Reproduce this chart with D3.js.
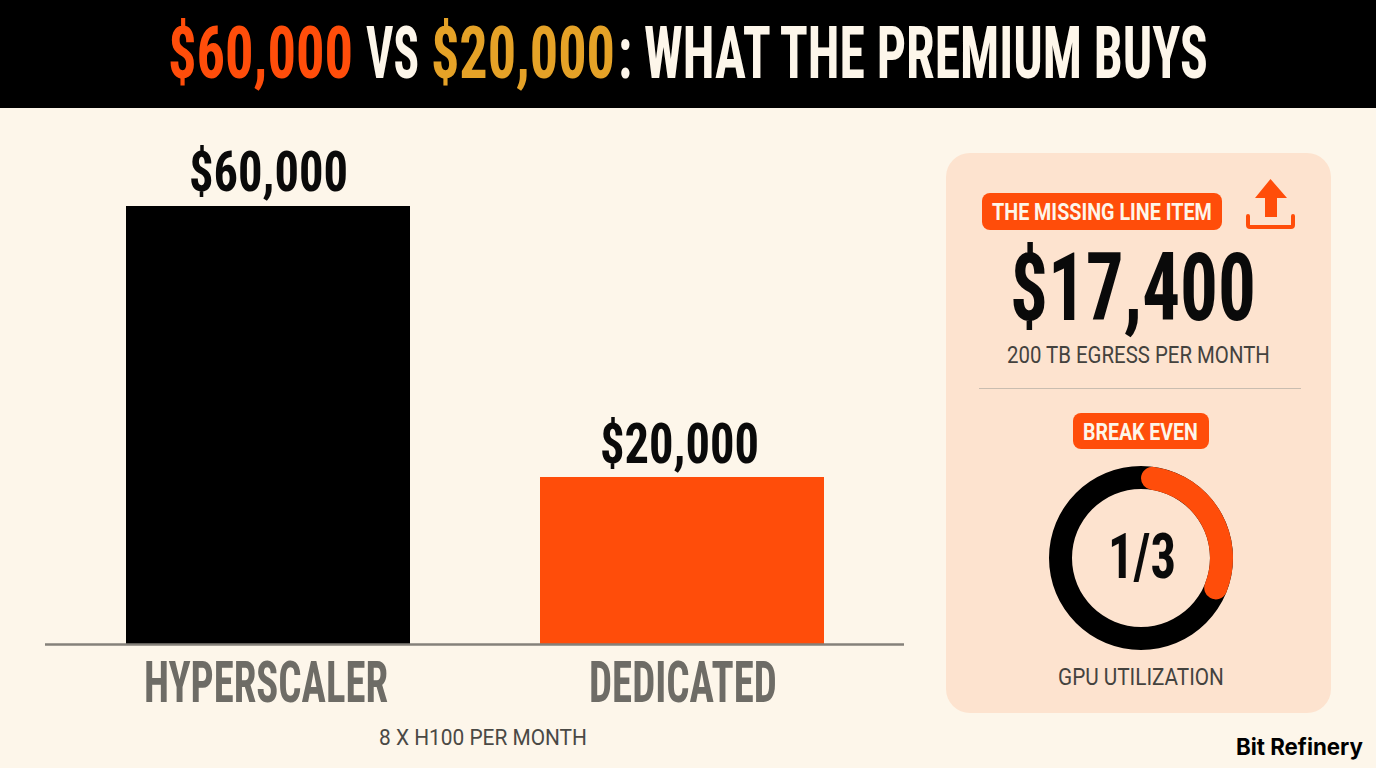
<!DOCTYPE html>
<html><head><meta charset="utf-8">
<script src="https://cdnjs.cloudflare.com/ajax/libs/d3/7.8.5/d3.min.js"></script>
<style>html,body{margin:0;padding:0;background:#fdf6ea}svg{display:block}</style></head>
<body><svg id="c" width="1376" height="768"></svg>
<script>
const categories=["HYPERSCALER","DEDICATED"];
const values=[60000,20000];
const valueLabels=["$60,000","$20,000"];
const barColors=["#000000","#ff4d0a"];
const axisNote="8 X H100 PER MONTH";
const titleParts=["$60,000","VS","$20,000",": WHAT THE PREMIUM BUYS"];
const titleColors=["#ff4d0a","#fdf6ea","#e5a227","#fdf6ea"];
const egressValue="$17,400", egressLabel="200 TB EGRESS PER MONTH", badge1="THE MISSING LINE ITEM", badge2="BREAK EVEN";
const gaugeShare=1/3, gaugeText="1/3", gaugeLabel="GPU UTILIZATION", brand="Bit Refinery";

const svg=d3.select("#c");
const NARROW="'Liberation Sans Narrow','Roboto Condensed',Roboto,sans-serif";
function fit(sel,x0,x1,y){
  const n=sel.node(), w=n.getComputedTextLength();
  sel.attr("transform",`translate(${x0},${y}) scale(${(x1-x0)/w},1)`).attr("text-anchor","start");
  return sel;
}
function label(parent,str,x0,x1,y,size,weight,fill,family){
  return fit(parent.append("text").text(str).attr("font-family",family||NARROW).attr("font-size",size).attr("font-weight",weight).attr("fill",fill),x0,x1,y);
}

svg.append("rect").attr("width",1376).attr("height",768).attr("fill","#fdf6ea");
svg.append("rect").attr("width",1376).attr("height",108).attr("fill","#000");

const titleX=[[168,353],[366,419],[431,615],[618,1208]];
titleParts.forEach((s,i)=>label(svg,s,titleX[i][0],titleX[i][1],77.500,72,700,titleColors[i]));

// bars
const xp=d3.scaleOrdinal().domain(categories).range([126,540]);
const barW=284;
const y=d3.scaleLinear().domain([-4650,60000]).range([644,206]);
svg.selectAll("rect.bar").data(categories).join("rect").attr("class","bar")
  .attr("x",d=>xp(d)).attr("width",barW)
  .attr("y",(d,i)=>y(values[i])).attr("height",(d,i)=>644-y(values[i]))
  .attr("fill",(d,i)=>barColors[i]);
svg.append("line").attr("x1",45).attr("x2",904).attr("y1",644.5).attr("y2",644.5).attr("stroke","#85817a").attr("stroke-width",2.5);

const vx=[[189,348],[600,759]], vy=[191,463];
valueLabels.forEach((s,i)=>label(svg,s,vx[i][0],vx[i][1],vy[i],56,700,"#0a0a0a"));
const cx=[[144,388],[589,777]];
categories.forEach((s,i)=>label(svg,s,cx[i][0],cx[i][1],702,58,700,"#6e6c66"));
label(svg,axisNote,379,587,745,22,400,"#4a4945","Roboto,sans-serif");

// panel
svg.append("rect").attr("x",946).attr("y",153).attr("width",385).attr("height",560).attr("rx",24).attr("fill","#fde3cf");
svg.append("rect").attr("x",982).attr("y",193).attr("width",240).attr("height",37).attr("rx",8).attr("fill","#ff4d0a");
label(svg,badge1,992,1212,219.500,23,700,"#fdf6ea","Roboto,sans-serif");
// icon
const ic=svg.append("g");
ic.append("path").attr("d","M1270.500 179L1287 198L1277 198L1277 217L1265 217L1265 198L1255 198Z").attr("fill","#ff4d0a");
ic.append("path").attr("d","M1248 216L1248 225Q1248 227 1250 227L1291 227Q1293 227 1293 225L1293 216").attr("fill","none").attr("stroke","#ff4d0a").attr("stroke-width",4).attr("stroke-linecap","round");
label(svg,egressValue,1010,1256,320,94,700,"#0a0a0a");
label(svg,egressLabel,1007,1270,362.500,23,400,"#44423e","Roboto,sans-serif");
svg.append("line").attr("x1",979).attr("x2",1301).attr("y1",388.5).attr("y2",388.5).attr("stroke","#c9bdb0").attr("stroke-width",1);
svg.append("rect").attr("x",1073).attr("y",413).attr("width",136).attr("height",36).attr("rx",8).attr("fill","#ff4d0a");
label(svg,badge2,1083,1198,439.500,23,700,"#fdf6ea","Roboto,sans-serif");

// gauge
const g=svg.append("g").attr("transform","translate(1141,558)");
const arc=d3.arc().innerRadius(69).outerRadius(92);
g.append("path").attr("d",arc({startAngle:0,endAngle:2*Math.PI})).attr("fill","#000");
g.append("path").attr("d",arc.cornerRadius(11.5)({startAngle:0,endAngle:2*Math.PI*gaugeShare})).attr("fill","#ff4d0a");
label(svg,gaugeText,1108,1176,578,62,700,"#0a0a0a");
label(svg,gaugeLabel,1058,1224,684.500,24,400,"#44423e","Roboto,sans-serif");
label(svg,brand,1236,1363,755,23,700,"#000","Inter,Roboto,sans-serif");
</script></body></html>
